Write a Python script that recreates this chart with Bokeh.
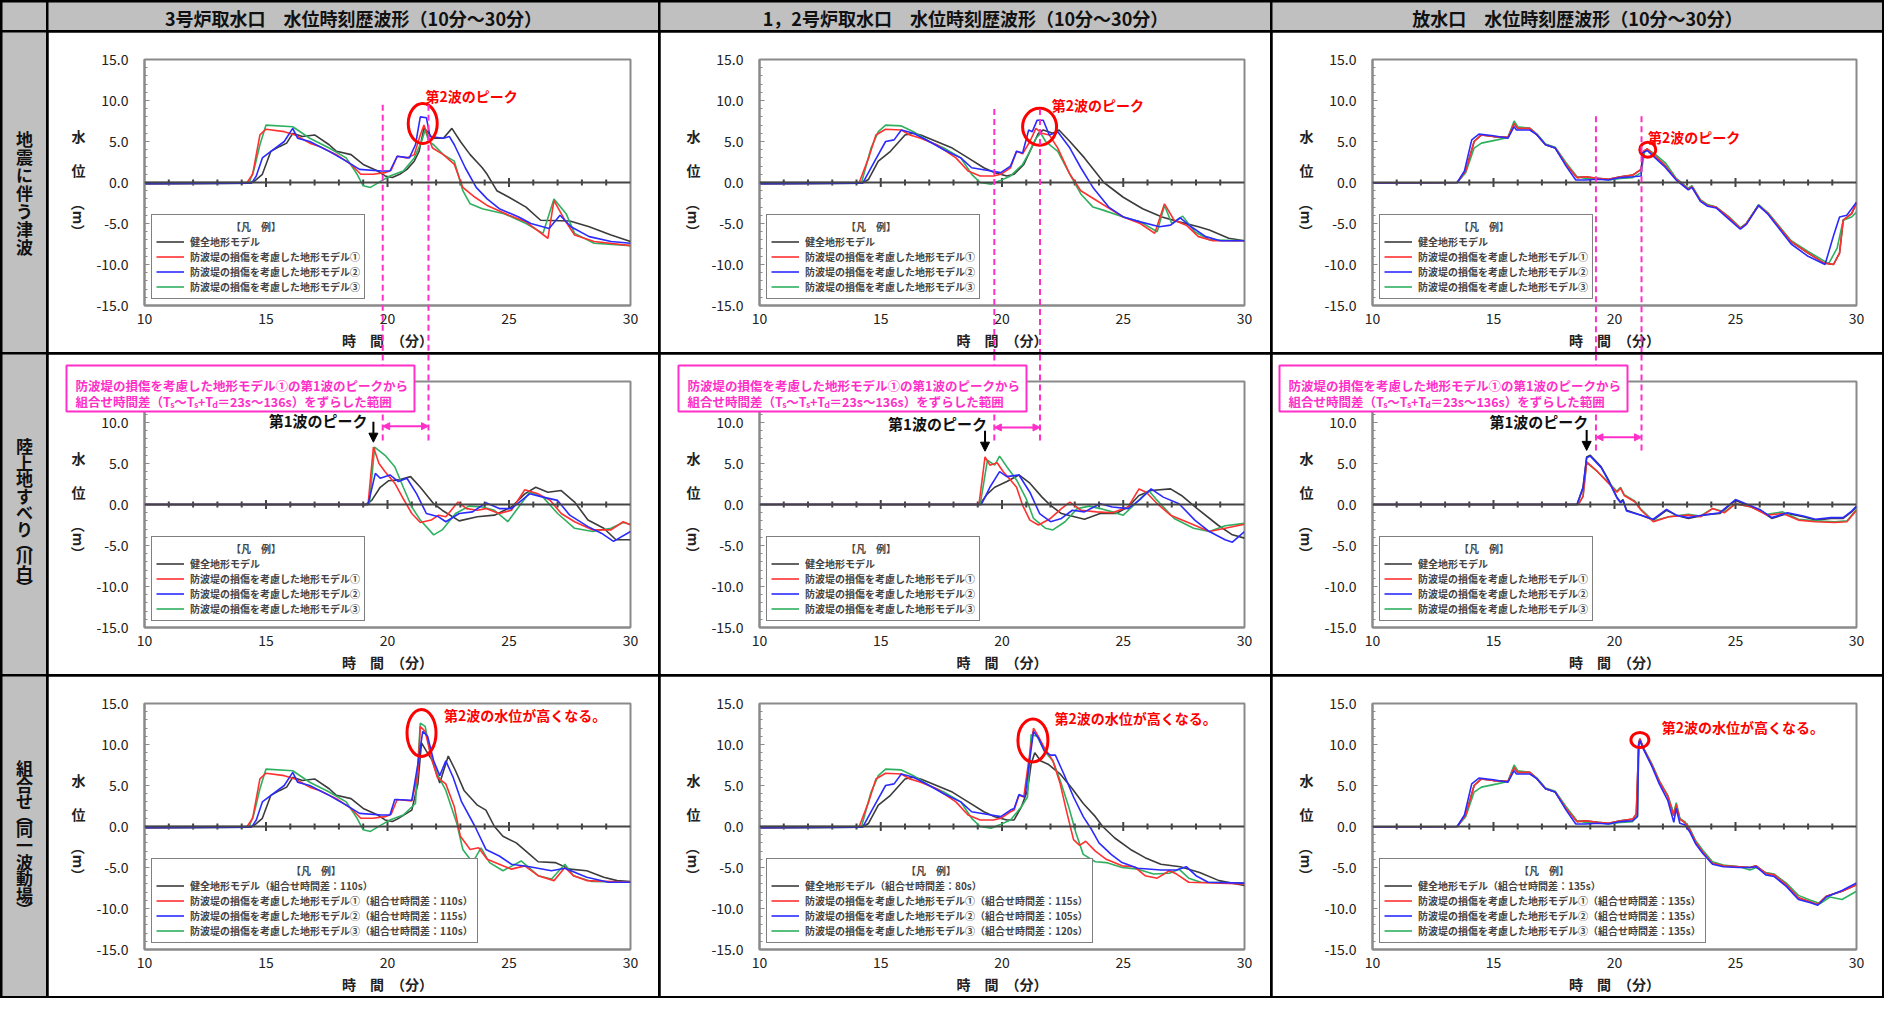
import numpy as np
from bokeh.plotting import figure
from bokeh.models import (Range1d, FixedTicker, PrintfTickFormatter, Span, Label,
                          Legend, LegendItem, Arrow, NormalHead)
from bokeh.layouts import row, column
from bokeh.embed import file_html
from bokeh.resources import INLINE
from bokeh.core.properties import value

FONT = "Noto Sans CJK JP"

# ---------------- texts ----------------
col_titles = ["3号炉取水口　水位時刻歴波形（10分～30分）",
              "1，2号炉取水口　水位時刻歴波形（10分～30分）",
              "放水口　水位時刻歴波形（10分～30分）"]
row_titles = ["地震に伴う津波", "陸上地すべり︵川白︶", "組合せ︵同一波動場︶"]
series_names = ["健全地形モデル",
                "防波堤の損傷を考慮した地形モデル①",
                "防波堤の損傷を考慮した地形モデル②",
                "防波堤の損傷を考慮した地形モデル③"]
combo_shift_s = [[110, 110, 115, 110], [80, 115, 105, 120], [135, 135, 135, 135]]
shift_range_s = [23, 136]
x_ticks = [10, 15, 20, 25, 30]
y_ticks = [-15, -10, -5, 0, 5, 10, 15]

# ---------------- data: (time [min], water level [m]) ----------------
r1c1_k = [(10,0.0),(14.3,0.0),(14.5,0.1),(14.85,1.0),(15.2,3.8),(15.57,4.4),(15.85,4.8),(16.1,6.0),(16.5,5.6),(17.0,5.8),(17.6,4.6),(17.9,3.8),(18.5,3.4),(19.0,2.2),(19.6,1.4),(19.9,0.8),(20.2,0.6),(20.5,1.0),(20.8,1.6),(21.1,2.6),(21.3,3.8),(21.5,6.6),(21.65,6.2),(21.85,5.4),(22.3,5.4),(22.65,6.6),(23.0,5.0),(23.4,3.4),(23.9,1.8),(24.1,1.0),(24.5,-1.0),(25.0,-1.8),(25.7,-3.0),(26.3,-4.6),(27.5,-4.7),(28.3,-5.4),(29.2,-6.4),(30,-7.2)]
r1c1_r = [(10,-0.15),(14.2,-0.1),(14.45,1.0),(14.6,3.4),(14.75,5.8),(15.0,6.5),(15.75,6.2),(16.2,5.8),(16.8,4.8),(17.2,4.4),(17.9,3.4),(18.5,2.2),(18.9,1.0),(19.4,1.0),(19.9,1.2),(20.15,1.5),(20.4,3.2),(20.8,3.0),(21.1,3.4),(21.35,5.8),(21.5,7.0),(21.6,6.2),(21.85,4.2),(22.3,3.4),(22.75,2.2),(23.1,-0.6),(23.6,-1.8),(24.1,-2.8),(25.0,-4.0),(25.7,-4.8),(26.6,-6.8),(26.85,-2.2),(27.3,-4.6),(27.7,-6.4),(28.5,-7.2),(30,-7.7)]
r1c1_b = [(10,-0.15),(14.4,-0.1),(14.6,0.8),(14.85,3.0),(15.2,3.8),(15.75,5.0),(16.1,6.6),(16.3,5.4),(16.8,5.0),(17.6,3.8),(18.3,2.6),(18.85,1.6),(19.75,1.4),(20.1,1.4),(20.4,3.2),(20.9,3.0),(21.15,4.6),(21.35,8.0),(21.6,7.9),(21.75,5.6),(22.3,5.4),(22.55,5.6),(22.75,4.6),(23.2,1.8),(23.65,-0.6),(24.1,-2.0),(24.6,-3.2),(25.4,-4.2),(25.9,-5.0),(26.65,-5.6),(27.1,-4.0),(27.55,-5.4),(28.3,-6.6),(29.2,-7.2),(30,-7.4)]
r1c1_g = [(10,-0.2),(14.3,-0.1),(14.5,1.5),(14.75,4.6),(15.0,7.0),(16.1,6.8),(16.8,5.4),(17.6,4.2),(18.3,3.0),(18.75,1.0),(19.0,-0.4),(19.3,-0.6),(19.75,0.2),(20.1,0.8),(20.65,1.4),(21.1,3.0),(21.4,5.0),(21.55,6.4),(21.7,5.0),(21.9,4.6),(22.3,3.4),(22.75,2.6),(23.1,-1.0),(23.4,-2.6),(23.9,-3.2),(24.8,-3.8),(25.7,-5.0),(26.4,-6.2),(26.85,-2.0),(27.35,-3.8),(27.7,-6.2),(28.5,-7.4),(30,-7.7)]

r1c2_k = [(10,0.0),(14.3,0.0),(14.5,0.4),(14.9,2.6),(15.4,3.8),(16.0,5.8),(16.35,6.0),(16.65,5.8),(17.3,5.0),(17.95,4.2),(18.6,3.0),(19.25,1.8),(19.7,1.2),(20.2,0.8),(20.5,1.0),(20.9,2.2),(21.15,3.8),(21.5,6.0),(21.7,6.4),(22.1,6.0),(22.35,6.4),(22.8,5.0),(23.4,3.0),(24.2,0.0),(25.0,-1.8),(25.8,-3.2),(26.6,-4.2),(27.3,-4.8),(28.1,-5.4),(28.55,-5.8),(29.35,-6.8),(30,-7.1)]
r1c2_r = [(10,-0.15),(14.1,-0.1),(14.5,3.0),(14.8,5.8),(15.2,6.5),(15.85,6.4),(16.2,5.8),(16.65,5.4),(17.3,4.6),(18.1,3.0),(18.6,1.4),(19.1,0.8),(19.65,0.8),(19.95,1.0),(20.35,1.8),(20.6,3.8),(20.85,3.5),(21.15,5.0),(21.4,6.6),(21.65,6.0),(21.95,5.8),(22.3,4.2),(22.8,1.0),(23.25,-1.0),(23.9,-2.2),(24.55,-3.4),(25.0,-4.2),(25.7,-5.0),(26.3,-6.2),(26.7,-2.6),(27.1,-4.6),(27.6,-5.2),(28.1,-6.6),(28.7,-7.1),(30,-7.1)]
r1c2_b = [(10,-0.15),(14.25,-0.1),(14.75,2.6),(15.2,5.0),(15.55,5.2),(15.85,6.4),(16.35,6.0),(17.0,5.0),(17.6,4.0),(18.3,3.0),(18.75,1.8),(19.55,1.4),(19.95,1.2),(20.35,2.0),(20.6,3.8),(20.85,3.6),(21.1,6.4),(21.25,6.2),(21.45,7.6),(21.7,7.6),(21.95,5.8),(22.3,6.2),(22.8,4.2),(23.25,1.8),(23.75,-0.6),(24.4,-3.0),(25.0,-4.2),(25.7,-4.8),(26.5,-5.4),(26.95,-5.2),(27.35,-4.3),(27.8,-5.4),(28.4,-6.6),(29.0,-7.1),(30,-7.1)]
r1c2_g = [(10,-0.2),(14.2,-0.1),(14.6,4.2),(14.9,6.2),(15.2,7.0),(15.85,6.9),(16.35,6.2),(17.0,5.0),(17.6,4.2),(18.3,3.0),(18.75,1.0),(19.1,0.0),(19.55,-0.2),(19.9,0.2),(20.35,0.8),(20.85,2.2),(21.15,3.8),(21.4,5.4),(21.6,6.0),(21.8,5.0),(22.3,3.8),(22.8,1.0),(23.25,-1.4),(23.75,-3.0),(24.2,-3.4),(25.0,-4.2),(25.7,-4.8),(26.4,-6.0),(26.7,-2.8),(27.0,-5.0),(27.45,-4.1),(27.95,-6.0),(28.55,-7.0),(30,-7.1)]

r1c3_k = [(10,-0.05),(13.5,0.0),(13.85,1.4),(14.2,5.0),(14.5,5.8),(15.0,5.6),(15.6,5.5),(15.85,7.2),(16.0,6.6),(16.5,6.6),(16.8,5.8),(17.15,4.6),(17.55,4.2),(18.0,2.2),(18.45,0.6),(18.8,0.7),(19.3,0.5),(19.75,0.4),(20.25,0.7),(20.75,0.9),(21.1,1.6),(21.2,3.8),(21.35,4.1),(21.6,3.4),(22.05,2.2),(22.55,0.4),(23.05,-0.8),(23.2,-0.5),(23.55,-2.2),(23.85,-2.8),(24.2,-3.0),(24.7,-4.2),(25.2,-5.6),(25.45,-5.0),(25.95,-2.8),(26.35,-3.8),(26.85,-5.6),(27.3,-7.2),(28.0,-8.6),(28.65,-9.8),(29.05,-10.0),(29.3,-8.6),(29.45,-4.6),(29.8,-3.8),(30,-2.5)]
r1c3_r = [(10,-0.05),(13.5,0.0),(13.85,1.4),(14.2,5.0),(14.5,5.8),(15.0,5.6),(15.6,5.5),(15.85,7.2),(16.0,6.6),(16.5,6.6),(16.8,5.8),(17.15,4.6),(17.55,4.2),(18.0,2.2),(18.45,0.6),(18.8,0.7),(19.3,0.5),(19.75,0.4),(20.25,0.7),(20.75,0.9),(21.1,1.6),(21.2,3.8),(21.35,4.1),(21.6,3.4),(22.05,2.2),(22.55,0.4),(23.05,-0.8),(23.2,-0.5),(23.55,-2.2),(23.85,-2.8),(24.2,-3.0),(24.7,-4.2),(25.2,-5.6),(25.45,-5.0),(25.95,-2.8),(26.35,-3.8),(26.85,-5.6),(27.3,-7.2),(28.0,-8.6),(28.65,-9.8),(29.05,-10.0),(29.3,-8.6),(29.45,-4.6),(29.8,-3.8),(30,-2.5)]
r1c3_b = [(10,-0.05),(13.5,0.0),(13.8,1.4),(14.1,5.2),(14.4,5.9),(15.0,5.7),(15.6,5.4),(15.85,6.8),(15.95,6.4),(16.5,6.4),(16.8,5.8),(17.15,4.6),(17.55,4.2),(18.0,2.0),(18.4,0.3),(18.8,0.3),(19.3,0.4),(19.75,0.3),(20.25,0.6),(20.75,0.7),(21.1,0.8),(21.15,3.6),(21.35,3.9),(21.6,3.2),(22.05,2.0),(22.55,0.3),(23.05,-0.9),(23.2,-0.6),(23.55,-2.3),(23.85,-2.9),(24.2,-3.1),(24.7,-4.4),(25.2,-5.7),(25.45,-5.1),(25.95,-2.8),(26.35,-3.9),(26.85,-5.8),(27.3,-7.5),(28.0,-9.0),(28.7,-10.0),(29.05,-6.5),(29.3,-4.2),(29.6,-4.0),(30,-2.4)]
r1c3_g = [(10,-0.05),(13.5,0.0),(13.85,1.2),(14.2,4.2),(14.5,4.8),(15.15,5.2),(15.6,5.5),(15.85,7.5),(16.0,6.8),(16.5,6.6),(16.8,5.9),(17.15,4.7),(17.55,4.3),(18.0,2.4),(18.45,0.7),(18.8,0.5),(19.3,0.5),(19.75,0.3),(20.25,0.5),(20.75,0.6),(21.1,1.2),(21.25,3.9),(21.4,4.0),(21.7,3.4),(22.1,2.4),(22.55,0.5),(23.05,-0.7),(23.2,-0.4),(23.55,-2.1),(23.85,-2.7),(24.2,-3.0),(24.7,-4.1),(25.2,-5.5),(25.45,-5.0),(25.95,-2.7),(26.35,-3.7),(26.85,-5.5),(27.3,-7.1),(28.0,-8.4),(28.85,-9.9),(29.2,-8.0),(29.45,-4.6),(29.8,-4.2),(30,-3.6)]

r2c1_k = [(10,0.0),(19.1,0.0),(19.35,0.5),(19.7,2.1),(20.05,2.9),(20.45,3.0),(20.95,3.4),(21.35,2.1),(21.9,0.1),(22.25,-0.7),(22.95,-2.0),(23.7,-1.5),(24.4,-1.3),(25.1,-0.3),(25.65,1.3),(26.1,2.1),(26.6,1.5),(27.15,1.7),(27.7,0.3),(28.25,-1.9),(28.9,-2.9),(29.4,-4.3),(30,-4.3)]
r2c1_r = [(10,0.0),(19.2,0.0),(19.42,7.0),(19.65,5.0),(19.9,4.0),(20.3,2.6),(20.65,0.7),(21.0,-1.1),(21.35,-2.2),(21.8,-1.9),(22.1,-1.3),(22.4,-1.5),(22.9,0.3),(23.25,-0.5),(23.7,-0.7),(24.05,-0.5),(24.6,-1.1),(25.1,-0.7),(25.65,1.8),(26.2,1.3),(26.7,0.5),(27.15,-1.1),(27.7,-2.1),(28.45,-3.1),(29.2,-3.1),(29.7,-2.1),(30,-2.5)]
r2c1_b = [(10,0.0),(19.2,0.0),(19.5,3.8),(19.7,3.2),(20.1,3.6),(20.45,2.8),(20.8,3.2),(21.2,1.3),(21.6,-1.1),(22.1,-1.5),(22.4,-2.1),(22.95,-1.1),(23.5,-0.9),(24.05,0.2),(24.6,-0.5),(25.1,-0.5),(25.85,1.3),(26.4,0.9),(27.0,0.5),(27.5,-1.3),(28.25,-2.7),(28.8,-3.5),(29.3,-4.5),(30,-3.3)]
r2c1_g = [(10,0.0),(19.25,0.0),(19.47,7.0),(19.9,6.0),(20.3,4.6),(20.65,2.1),(21.0,-0.3),(21.35,-1.9),(21.9,-3.7),(22.25,-3.1),(22.8,-1.1),(23.35,-0.2),(23.9,-0.3),(24.4,-0.7),(24.95,-2.1),(25.3,-0.7),(25.85,1.5),(26.4,0.9),(27.0,-1.1),(27.7,-2.9),(28.45,-3.3),(29.2,-2.9),(29.7,-2.2),(30,-2.4)]

r2c2_k = [(10,0.0),(19.08,0.0),(19.4,1.3),(19.7,2.1),(20.2,2.8),(20.7,3.6),(21.15,2.6),(21.65,0.9),(22.0,-0.1),(22.45,-1.1),(23.4,-1.8),(24.05,-1.1),(24.7,-1.1),(25.2,-0.3),(25.65,1.1),(26.15,1.7),(26.95,1.9),(27.4,1.1),(28.05,-0.5),(28.9,-2.5),(29.5,-3.7),(30,-4.1)]
r2c2_r = [(10,0.0),(19.05,0.0),(19.3,5.8),(19.5,4.8),(19.8,5.1),(20.05,4.0),(20.35,3.0),(20.6,2.1),(20.85,-0.1),(21.15,-1.9),(21.5,-2.5),(22.0,-1.7),(22.45,-0.5),(22.8,0.3),(23.25,-0.7),(23.9,-0.9),(24.55,-1.0),(25.2,-0.3),(25.65,1.9),(25.95,1.5),(26.4,0.1),(26.95,-1.3),(27.75,-2.3),(28.55,-3.3),(29.2,-2.9),(30,-2.4)]
r2c2_b = [(10,0.0),(19.15,0.0),(19.5,2.1),(19.9,4.0),(20.2,3.4),(20.7,3.6),(21.15,1.5),(21.55,-1.1),(22.0,-2.1),(22.45,-1.7),(22.9,-0.7),(23.4,-0.9),(24.05,0.1),(24.55,-0.3),(25.2,-0.5),(25.65,0.5),(26.15,1.9),(26.65,0.9),(27.3,0.1),(27.95,-1.9),(28.55,-3.3),(29.2,-4.3),(29.5,-4.6),(30,-3.3)]
r2c2_g = [(10,0.0),(19.1,0.0),(19.4,5.4),(19.7,4.8),(19.9,5.9),(20.2,4.6),(20.6,3.0),(21.0,0.7),(21.3,-1.7),(21.8,-2.9),(22.1,-3.1),(22.6,-2.1),(23.1,-0.5),(23.6,-0.2),(24.05,-0.5),(24.55,-0.9),(25.0,-1.3),(25.5,0.1),(26.05,1.7),(26.4,0.5),(27.1,-1.7),(27.9,-2.9),(28.55,-3.3),(29.2,-2.6),(30,-2.3)]

r2c3_k = [(10,0.0),(18.45,0.0),(18.7,2.1),(18.85,5.8),(19.0,6.0),(19.45,4.6),(19.75,3.0),(20.1,0.9),(20.25,0.3),(20.35,0.6),(20.5,-0.7),(21.1,-1.3),(21.6,-1.9),(22.15,-0.7),(22.55,-1.3),(23.05,-1.7),(23.4,-1.5),(23.9,-1.2),(24.35,-1.1),(25.0,0.5),(25.5,-0.1),(26.0,-0.7),(26.5,-1.7),(27.15,-1.1),(27.8,-1.5),(28.3,-1.9),(28.95,-1.7),(29.45,-1.7),(29.8,-0.9),(30,-0.3)]
r2c3_r = [(10,0.0),(18.5,0.0),(18.7,1.0),(18.85,5.2),(19.3,4.0),(19.75,2.6),(20.1,1.5),(20.25,2.0),(20.4,1.1),(20.85,0.3),(21.1,-0.7),(21.6,-2.1),(22.25,-1.5),(23.05,-1.3),(23.55,-1.5),(24.05,-0.5),(24.55,-1.0),(25.0,0.1),(25.65,-0.3),(26.3,-1.3),(26.95,-1.1),(27.6,-1.9),(28.3,-2.1),(29.1,-2.2),(29.6,-2.1),(30,-0.7)]
r2c3_b = [(10,0.0),(18.45,0.0),(18.7,2.0),(18.85,5.7),(19.0,5.9),(19.45,4.5),(19.75,2.9),(20.1,0.8),(20.25,0.2),(20.35,0.5),(20.5,-0.8),(21.1,-1.3),(21.6,-1.8),(22.15,-0.6),(22.55,-1.3),(23.05,-1.6),(23.4,-1.4),(23.9,-1.2),(24.35,-1.0),(25.0,0.6),(25.5,0.0),(26.0,-0.6),(26.5,-1.6),(27.15,-1.0),(27.8,-1.4),(28.3,-1.8),(28.95,-1.6),(29.45,-1.6),(29.8,-0.8),(30,-0.2)]
r2c3_g = [(10,0.0),(18.5,0.0),(18.7,1.0),(18.85,5.1),(19.3,4.0),(19.75,2.7),(20.1,1.6),(20.25,2.1),(20.4,1.2),(20.85,0.4),(21.1,-0.6),(21.6,-2.0),(22.25,-1.5),(23.05,-1.2),(23.55,-1.4),(24.05,-0.5),(24.55,-0.9),(25.0,0.1),(25.65,-0.3),(26.3,-1.2),(26.95,-0.9),(27.6,-1.8),(28.3,-2.0),(29.1,-2.1),(29.6,-2.0),(30,-0.6)]

r3c1_k = [(10,0.0),(14.3,0.0),(14.5,0.1),(14.85,1.0),(15.2,3.8),(15.57,4.4),(15.85,4.8),(16.1,6.0),(16.5,5.6),(17.0,5.8),(17.6,4.6),(17.9,3.8),(18.5,3.4),(19.0,2.2),(19.6,1.4),(19.9,0.8),(20.2,0.6),(20.4,0.9),(21.0,2.0),(21.25,5.2),(21.4,10.2),(21.6,9.2),(21.85,8.0),(22.15,5.3),(22.5,8.6),(22.8,6.8),(23.15,4.4),(23.7,2.6),(24.05,2.0),(24.4,0.0),(24.75,-1.2),(25.3,-2.0),(25.85,-3.4),(26.2,-4.3),(26.9,-4.4),(27.5,-5.2),(28.2,-5.4),(28.9,-6.2),(29.45,-6.6),(30,-6.7)]
r3c1_r = [(10,-0.15),(14.2,-0.1),(14.45,1.0),(14.6,3.4),(14.75,5.8),(15.0,6.5),(15.75,6.2),(16.2,5.8),(16.8,4.8),(17.2,4.4),(17.9,3.4),(18.5,2.2),(18.9,1.0),(19.4,1.0),(19.9,1.2),(20.15,1.5),(20.4,3.3),(21.0,3.1),(21.25,6.4),(21.35,12.2),(21.55,11.6),(21.8,8.4),(22.05,6.0),(22.4,5.2),(22.75,2.4),(23.0,-1.2),(23.4,-2.8),(23.75,-2.6),(24.1,-4.0),(24.6,-4.6),(25.1,-5.2),(25.65,-4.8),(26.2,-6.0),(26.85,-6.6),(27.3,-5.0),(27.65,-6.0),(28.2,-6.6),(30,-6.8)]
r3c1_b = [(10,-0.15),(14.4,-0.1),(14.6,0.8),(14.85,3.0),(15.2,3.8),(15.75,5.0),(16.1,6.6),(16.3,5.4),(16.8,5.0),(17.6,3.8),(18.3,2.6),(18.85,1.6),(19.75,1.4),(20.1,1.4),(20.3,3.3),(21.0,3.2),(21.25,7.6),(21.45,11.6),(21.65,11.0),(21.9,8.0),(22.15,6.2),(22.4,8.0),(22.7,6.0),(23.05,3.0),(23.6,0.0),(24.05,-2.8),(24.6,-3.6),(25.1,-4.6),(25.85,-4.9),(26.75,-5.4),(27.3,-5.1),(28.2,-6.2),(29.1,-6.8),(30,-6.8)]
r3c1_g = [(10,-0.2),(14.3,-0.1),(14.5,1.5),(14.75,4.6),(15.0,7.0),(16.1,6.8),(16.8,5.4),(17.6,4.2),(18.3,3.0),(18.75,1.0),(19.0,-0.4),(19.3,-0.6),(19.75,0.2),(20.1,0.8),(20.65,1.4),(21.15,2.8),(21.35,12.6),(21.55,12.2),(21.8,8.4),(22.05,6.4),(22.4,4.4),(22.85,0.4),(23.1,-2.8),(23.5,-4.4),(23.85,-2.6),(24.2,-4.4),(24.75,-5.4),(25.5,-4.2),(26.2,-6.0),(26.75,-6.4),(27.3,-4.6),(27.65,-6.0),(28.4,-6.7),(30,-6.8)]

r3c2_k = [(10,0.0),(14.3,0.0),(14.5,0.4),(14.9,2.6),(15.4,3.8),(16.0,5.8),(16.35,6.0),(16.65,5.8),(17.3,5.0),(17.95,4.2),(18.6,3.0),(19.25,1.8),(19.7,1.2),(20.2,0.8),(20.5,0.8),(20.8,2.4),(21.05,4.4),(21.2,7.6),(21.35,9.0),(21.6,8.0),(21.9,7.6),(22.4,6.4),(22.9,4.6),(23.35,2.8),(23.85,1.2),(24.15,0.0),(24.65,-1.4),(25.3,-2.8),(25.9,-3.8),(26.55,-4.6),(27.35,-4.9),(28.15,-5.6),(28.95,-6.6),(30,-7.2)]
r3c2_r = [(10,-0.15),(14.1,-0.1),(14.5,3.0),(14.8,5.8),(15.2,6.5),(15.85,6.4),(16.2,5.8),(16.65,5.4),(17.3,4.6),(18.1,3.0),(18.6,1.4),(19.1,0.8),(19.65,0.8),(19.95,1.0),(20.35,1.8),(20.5,2.0),(20.7,3.8),(20.9,3.6),(21.1,8.0),(21.3,12.0),(21.5,11.0),(21.75,9.6),(22.1,8.0),(22.4,5.2),(22.65,2.0),(22.95,-1.6),(23.2,-2.3),(23.45,-1.8),(23.85,-3.0),(24.3,-4.0),(24.95,-4.8),(25.45,-4.9),(25.9,-6.0),(26.4,-6.3),(26.9,-5.4),(27.2,-5.8),(27.7,-6.8),(30,-7.0)]
r3c2_b = [(10,-0.15),(14.25,-0.1),(14.75,2.6),(15.2,5.0),(15.55,5.2),(15.85,6.4),(16.35,6.0),(17.0,5.0),(17.6,4.0),(18.3,3.0),(18.75,1.8),(19.55,1.4),(19.95,1.2),(20.35,2.0),(20.5,2.2),(20.7,3.9),(20.95,3.6),(21.1,7.2),(21.3,11.6),(21.5,10.8),(21.75,9.2),(22.0,8.7),(22.2,8.7),(22.55,6.4),(22.95,3.6),(23.35,1.2),(23.7,-0.4),(24.0,-2.0),(24.5,-3.4),(24.95,-4.4),(25.6,-5.1),(26.55,-5.3),(27.2,-5.3),(27.6,-4.9),(28.0,-6.0),(28.5,-6.8),(30,-6.9)]
r3c2_g = [(10,-0.2),(14.2,-0.1),(14.6,4.2),(14.9,6.2),(15.2,7.0),(15.85,6.9),(16.35,6.2),(17.0,5.0),(17.6,4.2),(18.3,3.0),(18.75,1.0),(19.1,0.0),(19.55,-0.2),(19.9,0.2),(20.35,0.8),(20.8,2.4),(21.05,3.6),(21.2,11.2),(21.45,11.0),(21.75,9.2),(22.1,8.0),(22.4,5.6),(22.75,2.4),(23.05,-0.8),(23.35,-3.4),(23.85,-4.3),(24.3,-4.4),(24.95,-5.0),(25.6,-5.2),(26.25,-5.8),(26.9,-5.7),(27.3,-5.2),(27.7,-6.3),(28.2,-6.8),(30,-6.9)]

r3c3_k = [(10,-0.05),(13.5,0.0),(13.85,1.4),(14.2,5.0),(14.5,5.8),(15.0,5.6),(15.6,5.5),(15.85,7.2),(16.0,6.6),(16.5,6.6),(16.8,5.8),(17.15,4.6),(17.55,4.2),(18.0,2.2),(18.45,0.6),(18.8,0.7),(19.3,0.5),(19.75,0.4),(20.25,0.7),(20.75,0.9),(20.9,1.5),(21.0,10.1),(21.05,10.7),(21.2,9.5),(21.55,7.5),(21.85,5.5),(22.2,3.7),(22.45,1.3),(22.55,2.7),(22.7,0.9),(22.9,0.5),(23.1,-0.3),(23.35,-1.9),(23.65,-3.1),(24.05,-4.5),(24.5,-4.8),(25.15,-4.9),(25.6,-5.0),(25.85,-4.8),(26.25,-5.7),(26.6,-5.9),(27.1,-7.1),(27.6,-8.7),(28.1,-9.2),(28.4,-9.5),(28.75,-8.5),(29.4,-7.9),(30,-7.1)]
r3c3_r = [(10,-0.05),(13.5,0.0),(13.85,1.4),(14.2,5.0),(14.5,5.8),(15.0,5.6),(15.6,5.5),(15.85,7.2),(16.0,6.6),(16.5,6.6),(16.8,5.8),(17.15,4.6),(17.55,4.2),(18.0,2.2),(18.45,0.6),(18.8,0.7),(19.3,0.5),(19.75,0.4),(20.25,0.7),(20.75,0.9),(20.9,1.5),(21.0,10.1),(21.05,10.7),(21.2,9.5),(21.55,7.5),(21.85,5.5),(22.2,3.7),(22.45,1.3),(22.55,2.7),(22.7,0.9),(22.9,0.5),(23.1,-0.3),(23.35,-1.9),(23.65,-3.1),(24.05,-4.5),(24.5,-4.8),(25.15,-4.9),(25.6,-5.0),(25.85,-4.8),(26.25,-5.7),(26.6,-5.9),(27.1,-7.1),(27.6,-8.7),(28.1,-9.2),(28.4,-9.5),(28.75,-8.5),(29.4,-7.9),(30,-7.1)]
r3c3_b = [(10,-0.05),(13.5,0.0),(13.8,1.4),(14.1,5.2),(14.4,5.9),(15.0,5.7),(15.6,5.4),(15.85,6.8),(15.95,6.4),(16.5,6.4),(16.8,5.8),(17.15,4.6),(17.55,4.2),(18.0,2.0),(18.4,0.3),(18.8,0.3),(19.3,0.4),(19.75,0.3),(20.25,0.6),(20.75,0.7),(20.95,1.2),(21.0,10.0),(21.05,10.5),(21.2,9.4),(21.55,7.3),(21.85,5.2),(22.2,3.2),(22.45,0.5),(22.55,2.2),(22.7,0.4),(22.9,0.2),(23.1,-0.6),(23.35,-2.1),(23.65,-3.3),(24.05,-4.6),(24.5,-4.9),(25.15,-5.0),(25.6,-5.0),(25.85,-4.9),(26.25,-5.9),(26.6,-6.1),(27.1,-7.3),(27.6,-8.9),(28.1,-9.3),(28.4,-9.6),(28.75,-8.6),(29.4,-7.8),(30,-6.9)]
r3c3_g = [(10,-0.05),(13.5,0.0),(13.85,1.2),(14.2,4.2),(14.5,4.8),(15.15,5.2),(15.6,5.5),(15.85,7.5),(16.0,6.8),(16.5,6.6),(16.8,5.9),(17.15,4.7),(17.55,4.3),(18.0,2.4),(18.45,0.7),(18.8,0.5),(19.3,0.5),(19.75,0.3),(20.25,0.5),(20.75,0.6),(20.95,1.3),(21.0,9.9),(21.05,10.4),(21.2,9.6),(21.55,7.6),(21.85,5.6),(22.2,3.8),(22.45,1.6),(22.55,2.9),(22.7,1.0),(22.9,0.6),(23.1,-0.2),(23.35,-1.7),(23.65,-2.9),(24.05,-4.3),(24.5,-4.7),(25.15,-4.9),(25.6,-5.3),(25.85,-5.0),(26.25,-5.6),(26.6,-5.8),(27.1,-6.9),(27.6,-8.4),(28.1,-9.0),(28.5,-9.4),(28.9,-8.6),(29.4,-8.9),(30,-7.9)]

panels = [[[r1c1_k, r1c1_r, r1c1_b, r1c1_g], [r1c2_k, r1c2_r, r1c2_b, r1c2_g], [r1c3_k, r1c3_r, r1c3_b, r1c3_g]],
          [[r2c1_k, r2c1_r, r2c1_b, r2c1_g], [r2c2_k, r2c2_r, r2c2_b, r2c2_g], [r2c3_k, r2c3_r, r2c3_b, r2c3_g]],
          [[r3c1_k, r3c1_r, r3c1_b, r3c1_g], [r3c2_k, r3c2_r, r3c2_b, r3c2_g], [r3c3_k, r3c3_r, r3c3_b, r3c3_g]]]

# ---------------- styling / layout constants ----------------
COLORS = ["#3c3c3c", "#ff3030", "#2b2bff", "#2fb060"]
DRAW_ORDER = [0, 3, 1, 2]
MAG = "#ff2fc8"
GRAY = "#c0c0c0"
FRAME = "#8a8a8a"
LW, CW, HH, RH, GAP = 44, 610, 28, 320, 2
ML = [96, 99, 100]
MR = [28, 26, 26]
MT, MB = 27, 46
FH = RH - MT - MB


def tv(s):
    t = np.array([a for a, _ in s], dtype=float)
    v = np.array([b for _, b in s], dtype=float)
    return t, v


def noalign(p):
    try:
        p.frame_align = False
    except Exception:
        pass
    return p


def plain_fig(w, h, bg, x_range=None, y_range=None, **kw):
    p = figure(width=w, height=h,
               x_range=x_range if x_range is not None else Range1d(0, w),
               y_range=y_range if y_range is not None else Range1d(0, h),
               output_backend="svg", toolbar_location=None,
               x_axis_location=None, y_axis_location=None, min_border=0,
               outline_line_color=None, **kw)
    if bg is None:
        p.background_fill_alpha = 0
        p.border_fill_alpha = 0
    else:
        p.background_fill_color = bg
        p.border_fill_color = bg
    p.grid.visible = False
    return noalign(p)


def header_fig(text, w):
    p = plain_fig(w, HH, GRAY)
    p.text(x=[w / 2], y=[HH / 2 - 1], text=[text], text_align="center", text_baseline="middle",
           text_font=value(FONT), text_font_size="18px", text_font_style="bold", text_color="#111111")
    return p


def side_fig(text):
    p = plain_fig(LW, RH, GRAY)
    chars = list(text)
    norm = 18.0 if "︵" not in text else 16.5
    hs = [11.0 if ch in "︵︶" else norm for ch in chars]
    total = sum(hs)
    top = RH / 2 + total / 2
    ys, acc = [], 0.0
    for h in hs:
        ys.append(top - acc - h / 2)
        acc += h
    p.text(x=[LW / 2] * len(chars), y=ys, text=chars, text_align="center", text_baseline="middle",
           text_font=value(FONT), text_font_size="17px", text_font_style="bold", text_color="#111111")
    return p


def peak_center(series, lo, hi):
    xs, ys = [], []
    for s in series:
        t, v = tv(s)
        m = (t >= lo) & (t <= hi)
        i = int(np.argmax(v[m]))
        xs.append(t[m][i]); ys.append(v[m][i])
    return (min(xs) + max(xs)) / 2, (min(ys) + max(ys)) / 2


def first_peak_time(ci):
    t1, v1 = tv(panels[1][ci][1])
    return t1[int(np.argmax(v1))]


ell_size = {(0, 0): (29, 40), (0, 1): (34, 37), (0, 2): (16, 15),
            (2, 0): (29, 47), (2, 1): (30, 43), (2, 2): (18, 15)}
red_lab = {(0, 0): (21.56, 10.6), (0, 1): (22.05, 9.4), (0, 2): (21.38, 5.5),
           (2, 0): (22.32, 13.6), (2, 1): (22.16, 13.2), (2, 2): (21.95, 12.1)}
dash_top_r1 = [9.5, 9.0, 8.1]
dash_bot_r2 = [7.4, 7.4, 6.2]
dbl_arrow_y = [9.55, 9.4, 8.2]
first_lab = [(-0.24, 10.3), (0.08, 9.9), (0.07, 10.1)]
box_left = [18, 18, 7]
box_top = 11
BOX_W, BOX_H = 348, 46


def chart_fig(ri, ci):
    ppy = FH / 30.0
    p = figure(width=CW, height=RH, x_range=Range1d(10, 30), y_range=Range1d(-15, 15),
               output_backend="svg", toolbar_location=None,
               min_border_left=ML[ci], min_border_right=MR[ci],
               min_border_top=MT, min_border_bottom=MB,
               background_fill_color="white", border_fill_color="white")
    noalign(p)
    p.grid.visible = False
    p.outline_line_color = FRAME
    p.outline_line_width = 2
    xa, ya = p.xaxis[0], p.yaxis[0]
    xa.ticker = FixedTicker(ticks=x_ticks)
    ya.ticker = FixedTicker(ticks=y_ticks, minor_ticks=list(range(-15, 16)))
    ya.formatter = PrintfTickFormatter(format="%.1f")
    for a in (xa, ya):
        a.axis_line_color = FRAME
        a.axis_line_width = 2
        a.major_label_text_font = FONT
        a.major_label_text_font_size = "14px"
        a.major_label_text_color = "#222222"
        a.major_tick_line_color = FRAME
    xa.major_tick_in = 0; xa.major_tick_out = 0
    xa.minor_tick_line_color = None
    xa.major_label_standoff = 7
    ya.major_tick_in = 5; ya.major_tick_out = 0
    ya.minor_tick_in = 3; ya.minor_tick_out = 0
    ya.minor_tick_line_color = FRAME
    ya.major_label_standoff = 16
    xa.axis_label = "時　間　（分）"
    xa.axis_label_text_font = FONT
    xa.axis_label_text_font_size = "14px"
    xa.axis_label_text_font_style = "bold"
    xa.axis_label_text_color = "#222222"
    xa.axis_label_standoff = 3

    p.add_layout(Span(location=0, dimension="width", line_color="#444444", line_width=2))
    zt = np.arange(11, 30)
    hh = np.where(zt % 5 == 0, 4.5, 3.0) / ppy
    p.segment(x0=zt, y0=-hh, x1=zt, y1=hh, line_color="#444444", line_width=2)

    series = panels[ri][ci]
    rends = [None] * 4
    for k in DRAW_ORDER:
        t, v = tv(series[k])
        rends[k] = p.line(t, v, line_color=COLORS[k], line_width=1.6)

    if ri == 2:
        labels = [f"{n}（組合せ時間差：{s}s）" for n, s in zip(series_names, combo_shift_s[ci])]
        pad_n = 14
    else:
        labels = series_names
        pad_n = 8
    leg = Legend(items=[LegendItem(label=labels[k], renderers=[rends[k]]) for k in range(4)],
                 location=(7, 6), title="\u3000" * pad_n + "【凡　例】",
                 title_text_font=FONT, title_text_font_size="10px", title_text_font_style="bold",
                 title_standoff=0,
                 label_text_font=FONT, label_text_font_size="10px", label_text_font_style="bold",
                 label_height=11, glyph_height=11, glyph_width=28, label_standoff=6,
                 spacing=0, padding=4, margin=0,
                 border_line_color="black", border_line_width=1.5,
                 background_fill_color="white", background_fill_alpha=1.0)
    p.add_layout(leg)

    t_peak = first_peak_time(ci)
    xs = [t_peak + s / 60.0 for s in shift_range_s]

    if ri in (0, 2):
        cx, cy = peak_center(series, 20.8, 22.0)
        w, h = ell_size[(ri, ci)]
        p.ellipse(x=[cx], y=[cy], width=[w], height=[h], width_units="screen", height_units="screen",
                  fill_color=None, line_color="#ff0000", line_width=3)
        lx, ly = red_lab[(ri, ci)]
        txt = "第2波のピーク" if ri == 0 else "第2波の水位が高くなる。"
        p.add_layout(Label(x=lx, y=ly, text=txt, text_font=FONT, text_font_size="14px",
                           text_font_style="bold", text_color="#ff0000",
                           text_align="left", text_baseline="middle"))
    if ri == 1:
        pk = max(float(np.max(tv(s)[1])) for s in series)
        y_end = pk + 0.6
        p.add_layout(Arrow(end=NormalHead(size=9, fill_color="black", line_color="black"),
                           x_start=t_peak, y_start=y_end + 2.5, x_end=t_peak, y_end=y_end,
                           line_color="black", line_width=2))
        p.add_layout(Arrow(start=NormalHead(size=7, fill_color=MAG, line_color=MAG),
                           end=NormalHead(size=7, fill_color=MAG, line_color=MAG),
                           x_start=xs[0], y_start=dbl_arrow_y[ci], x_end=xs[1], y_end=dbl_arrow_y[ci],
                           line_color=MAG, line_width=2))
        dx, ly = first_lab[ci]
        p.add_layout(Label(x=t_peak + dx, y=ly, text="第1波のピーク", text_font=FONT,
                           text_font_size="15px", text_font_style="bold", text_color="#111111",
                           text_align="right", text_baseline="middle"))
    return p


def overlay_fig(ri, ci):
    """Transparent layer over the whole cell, sharing the chart's data coordinates,
    for the marks that lie outside the chart frame."""
    fw = CW - ML[ci] - MR[ci]
    ppx = fw / 20.0
    ppy = FH / 30.0
    x0, x1 = 10 - ML[ci] / ppx, 30 + MR[ci] / ppx
    y0, y1 = -15 - MB / ppy, 15 + MT / ppy
    p = plain_fig(CW, RH, None, x_range=Range1d(x0, x1), y_range=Range1d(y0, y1),
                  margin=(-RH, 0, 0, 0))

    yl_x = 10 - 66 / ppx
    for txt, yy, ang in (("水", 5.7, 0), ("位", 1.6, 0), ("（m）", -4.2, -np.pi / 2)):
        p.add_layout(Label(x=yl_x, y=yy, text=txt, text_font=FONT, text_font_size="14px",
                           text_font_style="bold", text_color="#222222", angle=ang,
                           text_align="center", text_baseline="middle"))

    t_peak = first_peak_time(ci)
    xs = [t_peak + s / 60.0 for s in shift_range_s]
    if ri == 0:
        p.segment(x0=xs, y0=[dash_top_r1[ci]] * 2, x1=xs, y1=[y0] * 2,
                  line_color=MAG, line_width=2, line_dash="6 4")
    if ri == 1:
        p.segment(x0=xs, y0=[y1] * 2, x1=xs, y1=[dash_bot_r2[ci]] * 2,
                  line_color=MAG, line_width=2, line_dash="6 4")
        bx = 10 + (box_left[ci] - ML[ci]) / ppx
        by = 15 + (MT - box_top) / ppy
        p.quad(left=[bx], right=[bx + BOX_W / ppx], top=[by], bottom=[by - BOX_H / ppy],
               fill_color="white", line_color=MAG, line_width=2)
        fs = 12.5
        p.add_layout(Label(x=bx, y=by, x_offset=9, y_offset=-20,
                           text="防波堤の損傷を考慮した地形モデル①の第1波のピークから",
                           text_font=FONT, text_font_size=f"{fs}px", text_font_style="bold",
                           text_color=MAG, text_align="left", text_baseline="alphabetic"))
        pieces = [("組合せ時間差（T", fs, 94.7), ("s", 8.7, 4.0), ("～T", fs, 19.7), ("s", 8.7, 4.0),
                  ("+T", fs, 14.4), ("d", 8.7, 5.2), ("＝23s～136s）をずらした範囲", fs, 0)]
        xo = 9
        for txt, f, wdt in pieces:
            yo = -36 if f == fs else -39
            p.add_layout(Label(x=bx, y=by, x_offset=xo, y_offset=yo, text=txt, text_font=FONT,
                               text_font_size=f"{f}px", text_font_style="bold", text_color=MAG,
                               text_align="left", text_baseline="alphabetic"))
            xo += wdt
    return p


def cell(ri, ci):
    return column(chart_fig(ri, ci), overlay_fig(ri, ci), spacing=0)


corner = plain_fig(LW, HH, GRAY)
rows = [row(corner, *[header_fig(col_titles[c], CW) for c in range(3)], spacing=GAP)]
for ri in range(3):
    rows.append(row(side_fig(row_titles[ri]), *[cell(ri, ci) for ci in range(3)], spacing=GAP))

layout = column(*rows, spacing=GAP, styles={"background-color": "#000000", "padding": "2px"})

open("out.html", "w").write(file_html(layout, INLINE, title="水位時刻歴波形"))
